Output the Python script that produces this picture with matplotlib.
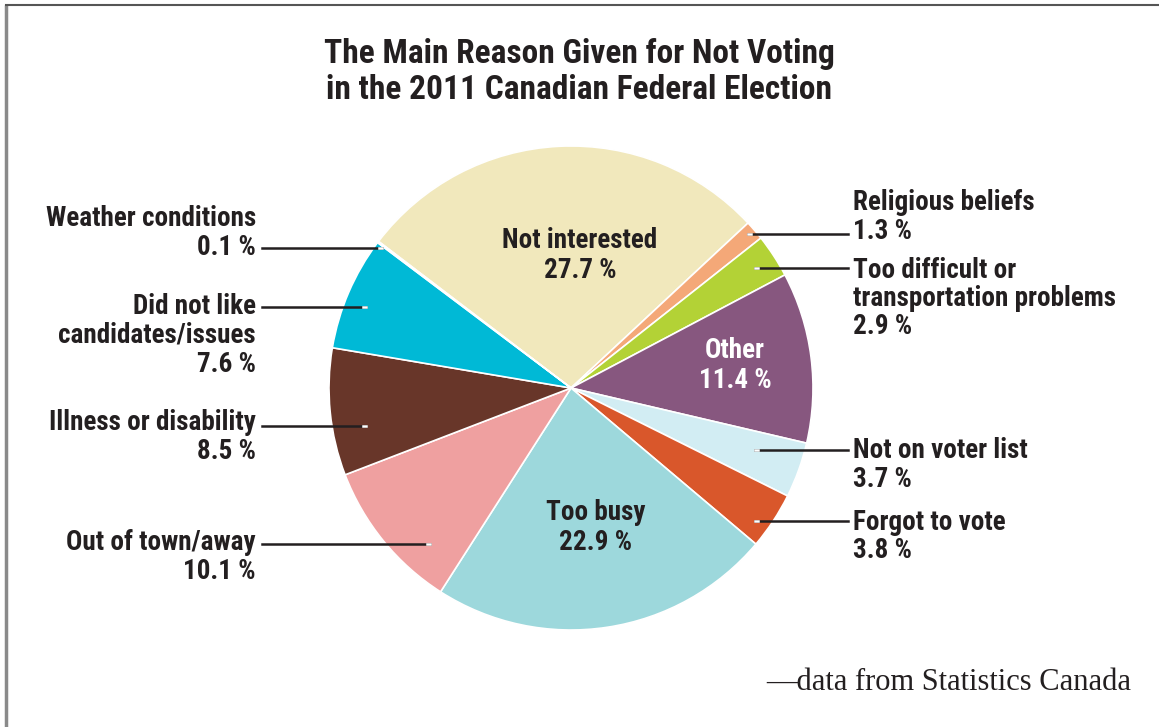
import matplotlib.pyplot as plt
from matplotlib import font_manager

# Datos: motivo principal para no votar (%), en sentido horario desde "Not interested"
motivos = ['Not interested', 'Religious beliefs', 'Too difficult or\ntransportation problems',
           'Other', 'Not on voter list', 'Forgot to vote', 'Too busy',
           'Out of town/away', 'Illness or disability', 'Did not like\ncandidates/issues',
           'Weather conditions']
porcentajes = [27.7, 1.3, 2.9, 11.4, 3.7, 3.8, 22.9, 10.1, 8.5, 7.6, 0.1]
colores = ['#F1E8BC', '#F4A878', '#B3D236', '#87577F', '#D2EDF3', '#D9572B',
           '#9DD8DC', '#EFA0A0', '#683629', '#00B9D6', '#E5087F']

nombres = {f.name for f in font_manager.fontManager.ttflist}
candidatas = ['Roboto Condensed', 'Archivo Narrow', 'Fira Sans Condensed',
              'PT Sans Narrow', 'Liberation Sans Narrow']
fuente = next((f for f in candidatas if f in nombres), 'DejaVu Sans')
escala = 1.0 if fuente != 'DejaVu Sans' else 0.82
plt.rcParams['font.family'] = [fuente, 'DejaVu Sans']

W, H = 1159, 727
fig = plt.figure(figsize=(W / 100, H / 100), dpi=100)
ax = fig.add_axes([0, 0, 1, 1])

cx, cy, r = 571, H - 388, 242
ax.pie(porcentajes, colors=colores, startangle=142.7, counterclock=False,
       center=(cx, cy), radius=r, frame=True,
       wedgeprops=dict(edgecolor='white', linewidth=1.2))
ax.set_xlim(0, W)
ax.set_ylim(0, H)
ax.set_aspect('equal')
ax.axis('off')

# borde del recuadro
ax.plot([6, 6], [0, H - 5], color='#8a8a8a', lw=2.5, solid_capstyle='butt')
ax.plot([6, W], [H - 5, H - 5], color='#555555', lw=1.5)

tit = 24 * escala
ax.text(579, H - 54, 'The Main Reason Given for Not Voting', ha='center', va='center',
        fontsize=tit, fontweight='bold', color='#231f20')
ax.text(579, H - 90, 'in the 2011 Canadian Federal Election', ha='center', va='center',
        fontsize=tit, fontweight='bold', color='#231f20')

def pct(v):
    return f'{v} %'

tam = 19.5 * escala
# etiquetas a la izquierda: (indice, y del texto, y de la linea, x final de la linea)
izquierda = [(10, 219, 248, 382), (9, 307, 307, 366), (8, 423, 426, 366), (7, 543, 544, 430)]
for i, yt, yl, xe in izquierda:
    lineas = motivos[i].split('\n') + [pct(porcentajes[i])]
    for k, t in enumerate(lineas):
        ax.text(256, H - (yt + k * 28.5), t, ha='right', va='center', fontsize=tam,
                fontweight='bold', color='#231f20')
    ax.plot([262, xe], [H - yl, H - yl], color='#231f20', lw=1.8)
    ax.plot([xe - 3, xe], [H - yl, H - yl], color='white', lw=1.8)

derecha = [(1, 203, 234, 748), (2, 270, 268, 755), (4, 451, 450, 755), (5, 522, 521, 755)]
for i, yt, yl, xs in derecha:
    lineas = motivos[i].split('\n') + [pct(porcentajes[i])]
    for k, t in enumerate(lineas):
        ax.text(853, H - (yt + k * 28.5), t, ha='left', va='center', fontsize=tam,
                fontweight='bold', color='#231f20')
    ax.plot([xs, 848], [H - yl, H - yl], color='#231f20', lw=1.8)
    ax.plot([xs, xs + 3], [H - yl, H - yl], color='white', lw=1.8)

# etiquetas dentro del pastel
dentro = [(0, 580, 241, '#231f20'), (3, 735, 350, 'white'), (6, 596, 513, '#231f20')]
for i, x, y, c in dentro:
    ax.text(x, H - y, motivos[i], ha='center', va='center', fontsize=tam,
            fontweight='bold', color=c)
    ax.text(x, H - (y + 30), pct(porcentajes[i]), ha='center', va='center', fontsize=tam,
            fontweight='bold', color=c)

ax.text(1131, H - 683, '\u2014data from Statistics Canada', ha='right', va='center',
        fontsize=22, family=['Liberation Serif', 'DejaVu Serif'], color='#231f20')

fig.savefig('out.png', dpi=100)
